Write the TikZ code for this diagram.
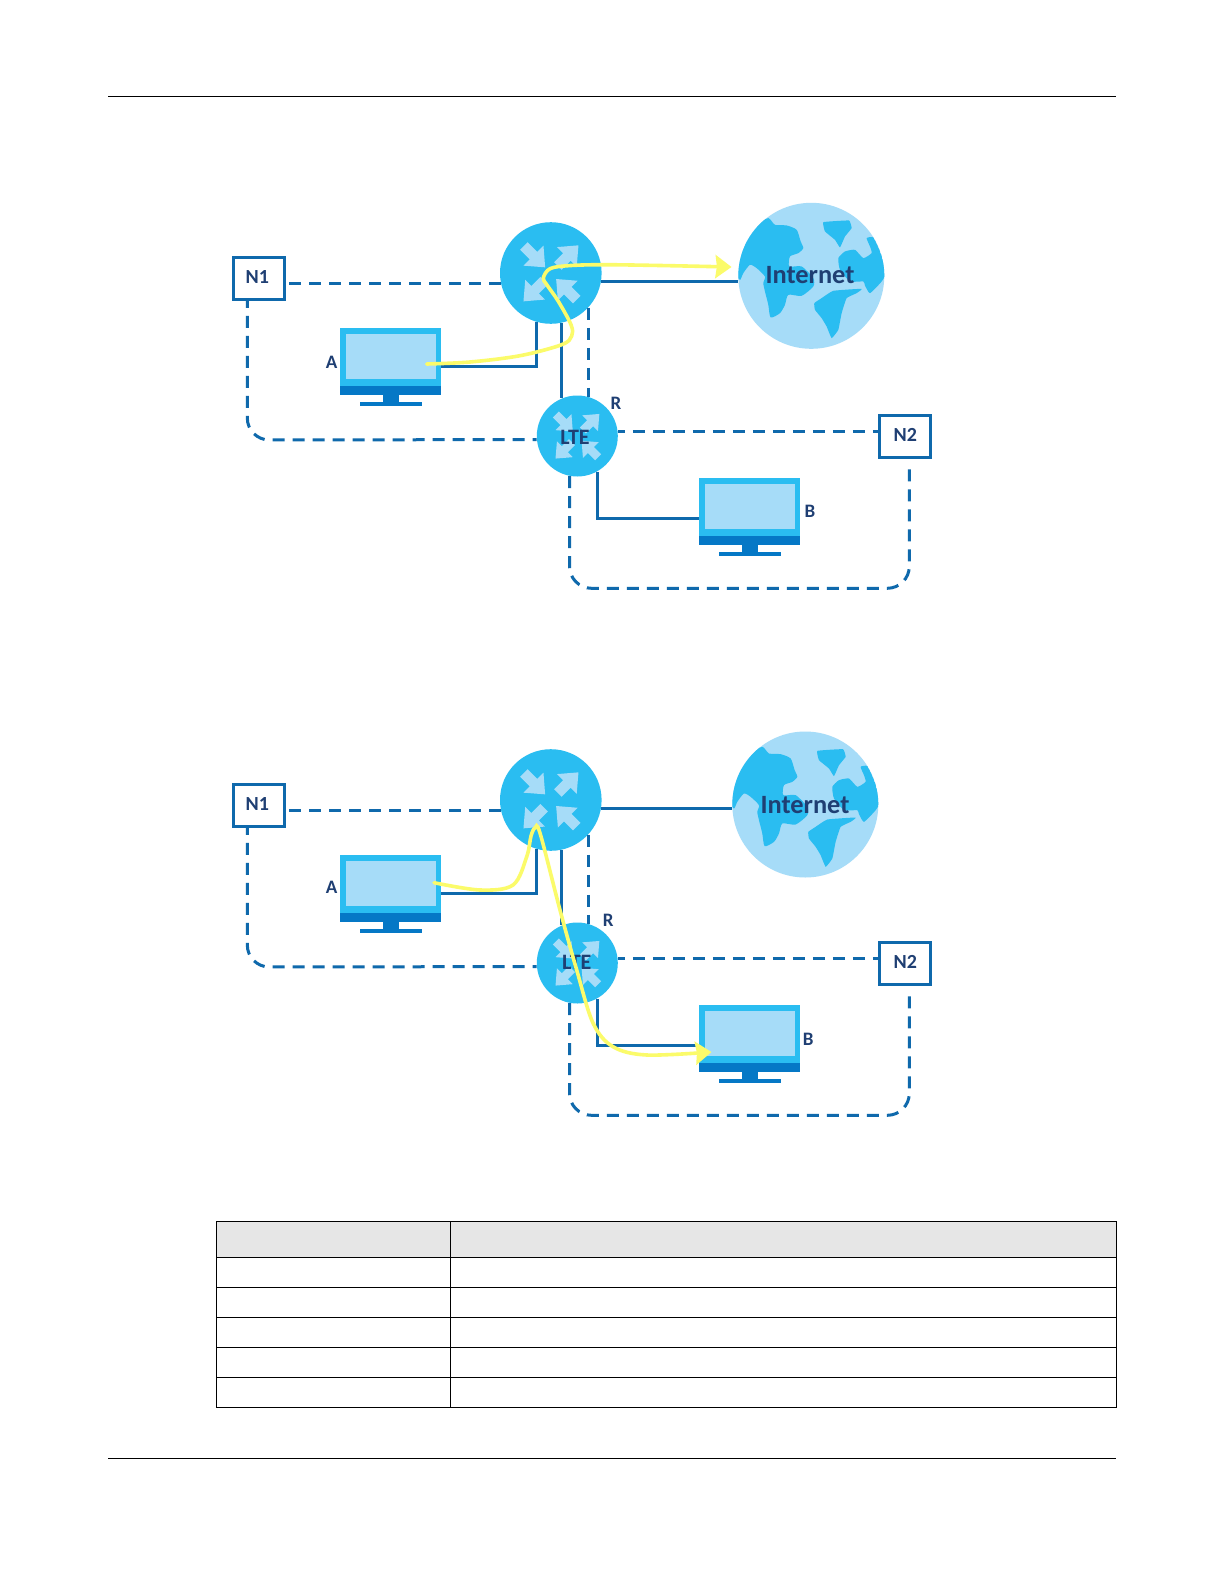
\documentclass[tikz,border=0pt]{standalone}
\usepackage{fontspec}
\setmainfont{Carlito}
\usetikzlibrary{arrows.meta}
\definecolor{cRouter}{HTML}{2ABDF1}
\definecolor{cLight}{HTML}{A6DCF8}
\definecolor{cLine}{HTML}{0F69AC}
\definecolor{cBand}{HTML}{0578C6}
\definecolor{cText}{HTML}{1F3F73}
\definecolor{cFlow}{HTML}{FBFB6A}
\definecolor{cHead}{HTML}{E6E6E6}
\tikzset{
  solidlink/.style={draw=cLine,line width=1.5pt},
  dashlink/.style={draw=cLine,line width=1.5pt,dash pattern=on 6pt off 4pt,rounded corners=11pt},
  flow/.style={draw=cFlow,line width=1.8pt,line cap=round,-{Stealth[length=8pt,width=11.5pt,inset=0.7pt,fill=cFlow]}},
  netbox/.style={draw=cLine,line width=1.5pt,fill=white,minimum width=25.5pt,minimum height=21pt,inner sep=0pt,
     text=cText,font=\bfseries\fontsize{10}{12}\selectfont,text depth=2pt},
  tag/.style={text=cText,font=\bfseries\fontsize{9.5}{11}\selectfont,inner sep=0pt},
  ltetag/.style={text=cText,font=\bfseries\fontsize{11}{13}\selectfont,inner sep=0pt},
  nettag/.style={text=cText,font=\bfseries\fontsize{13.2}{15}\selectfont,inner sep=0pt},
  rule/.style={draw=black,line width=0.6pt},
}
% name, cx, cy, radius
\newcommand{\routericon}[4]{%
  \node[circle,fill=cRouter,minimum size=#4pt,inner sep=0pt] (#1) at (#2,#3) {};
  \begin{scope}[shift={(#2,#3)},scale=#4/152.4,shift={(-167,-165)}]
    \fill[cLight] (97.3,72.7)--(126.3,101.7)--(145,83)--(150,148)--(85,143)--(103.7,124.3)--(74.7,95.3)--cycle;
    \fill[cLight] (250,82)--(244.7,146.7)--(226.3,128.3)--(199.3,155.3)--(176.7,132.7)--(203.7,105.7)--(185.3,87.3)--cycle;
    \fill[cLight] (85,250)--(90.3,185.3)--(108.7,203.7)--(135.7,176.7)--(158.3,199.3)--(131.3,226.3)--(149.7,244.7)--cycle;
    \fill[cLight] (183,183)--(247.7,188.3)--(229.3,206.7)--(256.3,233.7)--(233.7,256.3)--(206.7,229.3)--(188.3,247.7)--cycle;
  \end{scope}}
% name, left, top
\newcommand{\screenicon}[3]{%
  \node[fill=cRouter,minimum width=50.5pt,minimum height=28.7pt,inner sep=0pt,outer sep=0pt,anchor=north west] (#1) at (#2,#3) {};
  \begin{scope}[shift={(#2,#3)}]
    \fill[cLight] (6,5.7) rectangle (95.5,51);
    \fill[cBand] (0,57.4) rectangle (101,66.7);
    \fill[cBand] (42.5,66.7) rectangle (59,74);
    \fill[cBand] (20,73.5) rectangle (81.5,77.7);
  \end{scope}}
% name, cx, cy
\newcommand{\globeicon}[3]{%
  \node[circle,fill=cLight,minimum size=73pt,inner sep=0pt] (#1) at (#2,#3) {};
  \begin{scope}[shift={(#2,#3)},scale=1/3,shift={(-244,-233)}]
    \clip (244,233) circle (219);
    \fill[cRouter] plot[smooth cycle,tension=.4] coordinates {(115,60)(135,80)(170,82)(200,95)(212,130)(220,150)(205,165)(180,175)(178,205)(215,205)(250,240)(250,265)(215,293)(175,290)(165,320)(150,345)(122,358)(115,320)(105,280)(100,255)(105,235)(80,210)(60,200)(40,225)(30,245)(15,220)(28,170)(50,120)(80,80)};
    \fill[cRouter] plot[smooth cycle,tension=.15] coordinates {(280,72)(357,67)(365,90)(345,115)(330,148)(315,125)(285,100)};
    \fill[cRouter] plot[smooth cycle,tension=.3] coordinates {(410,120)(430,118)(450,160)(470,220)(455,250)(420,285)(405,262)(400,250)(360,250)(330,215)(325,180)(345,160)(375,155)(400,180)(425,165)(420,145)};
    \fill[cRouter] plot[smooth cycle,tension=.2] coordinates {(310,278)(395,272)(380,285)(350,300)(335,345)(325,395)(305,420)(290,385)(275,360)(255,335)(253,315)(275,300)};
  \end{scope}}
% suffix, dy, globe cx, globe cy (absolute)
\newcommand{\netdiagram}[4]{%
  \globeicon{inet#1}{#3}{#4}
  \begin{scope}[shift={(0,#2)}]
    \routericon{gw#1}{550.8}{273}{50.8}
    \routericon{lte#1}{577.3}{436}{40.5}
    \screenicon{pa#1}{340.3}{328.3}
    \screenicon{pb#1}{699.3}{478.3}
    \node[netbox] (nl#1) at (259.35,278.7) {N1\kern2pt};
    \node[netbox] (nr#1) at (905.3,436.8) {N2};
    \coordinate (low#1) at (909.3,588.3);
    \coordinate (lowleft#1) at (247.3,440);
  \end{scope}
  % solid links
  \draw[solidlink] (gw#1.351) -- (gw#1.351 -| inet#1.west);
  \draw[solidlink] ([yshift=-4.5pt]pa#1.east) -| (gw#1.254);
  \draw[solidlink] (gw#1.282) -- (gw#1.282 |- lte#1.113.5);
  \draw[solidlink] (lte#1.299.8) |- ([yshift=-5.65pt]pb#1.west);
  % dashed links
  \draw[dashlink] (gw#1.192.5) -- (gw#1.192.5 -| nl#1.east);
  \draw[dashlink,dash phase=4pt] (lte#1.185.6) -- (lowleft#1) -- (lowleft#1 |- nl#1.south);
  \draw[dashlink] (gw#1.317.6) -- (gw#1.317.6 |- lte#1.74.4);
  \draw[dashlink,dash phase=2.5pt] (lte#1.6.6) -- (lte#1.6.6 -| nr#1.west);
  \draw[dashlink,shorten >=4pt] (lte#1.259.6) -- (lte#1.259.6 |- low#1) -- (low#1) -- (low#1 |- nr#1.south);
}
\begin{document}
\begin{tikzpicture}[x=0.5pt,y=-0.5pt]
  \useasboundingbox (0,0) rectangle (1224,1584);
  \fill[white] (0,0) rectangle (1224,1584);
  % page rules
  \draw[rule] (108,96.7) -- (1116,96.7);
  \draw[rule] (108,1458.3) -- (1116,1458.3);

  % upper diagram
  \netdiagram{u}{0}{811.3}{275.8}
  \node[nettag] (iu) at (810,275.3) {Internet};
  \node[ltetag] (lu) at (575,437.8) {LTE};
  \node[tag] (au) at (331.7,362.7) {A};
  \node[tag] (bu) at (810,511.2) {B};
  \node[tag] (ru) at (616,403.2) {R};
  \draw[flow] plot[smooth,tension=.55] coordinates {(426.7,364)(470,362)(520,355.7)(561.7,344.7)(571.7,336)(571,324.7)(558.3,301.3)(547,285)(543.3,278)(550,268.7)(568,265.7)(601.7,264.7)(660,265.5)(731.5,267)};

  % lower diagram
  \netdiagram{d}{527}{805.3}{804.5}
  \node[nettag] (id) at (805,805) {Internet};
  \node[ltetag] (ld) at (576.7,962.7) {LTE};
  \node[tag] (ad) at (331.7,887.5) {A};
  \node[tag] (bd) at (808.3,1039) {B};
  \node[tag] (rd) at (608.3,920.7) {R};
  \draw[flow] plot[smooth,tension=.55] coordinates {(434,882.7)(480,890)(513,885)(526.7,856.7)(531,836)(535,828)(540,833)(560,910)(576.7,970)(593,1023)(613,1046.7)(646.7,1055)(711.5,1052)};

  % table
  \fill[cHead] (216.3,1221.7) rectangle (1116.3,1257.3);
  \draw[rule] (216.3,1221.7) rectangle (1116.3,1407.3);
  \draw[rule] (450.3,1221.7) -- (450.3,1407.3);
  \foreach \yy in {1257.3,1287.3,1317.3,1347.3,1377.3}
    \draw[rule] (216.3,\yy) -- (1116.3,\yy);
\end{tikzpicture}
\end{document}
